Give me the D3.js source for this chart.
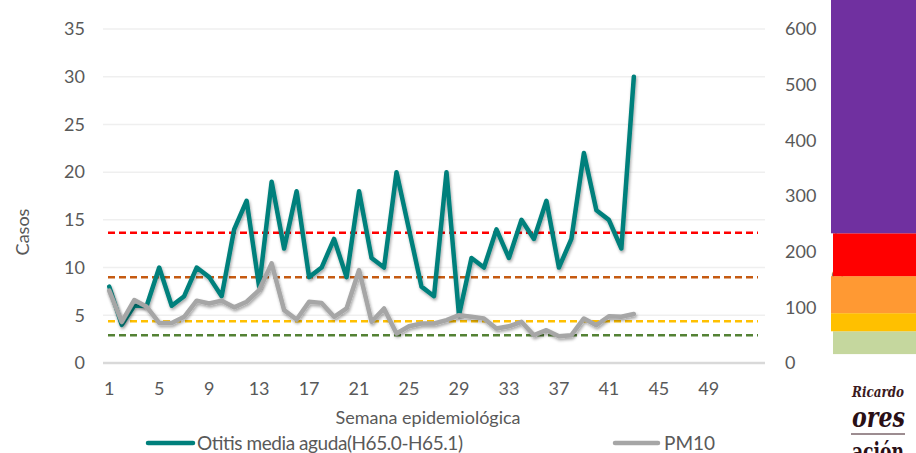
<!DOCTYPE html>
<html>
<head>
<meta charset="utf-8">
<script src="https://cdn.jsdelivr.net/npm/d3@7"></script>
<style>
  body { margin: 0; background: #fff; }
  text { font-family: Lato, "Open Sans", sans-serif; fill: #595959; }
</style>
</head>
<body>
<div id="chart"></div>
<script>
// semanas epidemiologicas 1..53
var weeks = d3.range(1, 54);
var weekTicks = [1, 5, 9, 13, 17, 21, 25, 29, 33, 37, 41, 45, 49];
var casosTicks = [0, 5, 10, 15, 20, 25, 30, 35];
var pmTicks = [0, 100, 200, 300, 400, 500, 600];

// casos de otitis (semanas 1..43)
var otitis = [8, 4, 6, 6, 10, 6, 7, 10, 9, 7, 14, 17, 8, 19, 12, 18, 9, 10, 13, 9,
              18, 11, 10, 20, 14, 8, 7, 20, 5, 11, 10, 14, 11, 15, 13, 17, 10, 13, 22, 16,
              15, 12, 30];
// PM10 semanal (ug/m3)
var pm10 = [130, 74, 113, 101, 72, 72, 83, 112, 107, 112, 100, 110, 131, 179, 95, 78, 110, 108, 83, 98,
            167, 74, 98, 53, 66, 71, 71, 77, 86, 83, 80, 62, 66, 74, 50, 59, 48, 50, 80, 68,
            84, 83, 88];

// umbrales PM10 (lineas punteadas)
var umbrales = [50, 75, 154, 234];
var umbralColors = ["#548235", "#FFC000", "#C55A11", "#FF0000"];

// barra de colores a la derecha (rango PM10)
var bandLow = [16, 57, 89.5, 156, 233];
var bandHigh = [57, 89.5, 156, 233, 660];
var bandColors = ["#C5D79E", "#FFC000", "#FF9933", "#FF0000", "#7030A0"];

var width = 916, height = 453;
var mLeft = 103, mRight = 765, mTop = 29, mBottom = 363;

var svg = d3.select("#chart").append("svg")
    .attr("width", width).attr("height", height);

var defs = svg.append("defs");
var f = defs.append("filter").attr("id", "shadow")
    .attr("x", "-10%").attr("y", "-10%").attr("width", "120%").attr("height", "130%");
f.append("feDropShadow").attr("dx", 1).attr("dy", 2).attr("stdDeviation", 1.5)
    .attr("flood-color", "#000").attr("flood-opacity", 0.35);

var x = d3.scaleBand().domain(weeks).range([mLeft, mRight]);
var cx = function (w) { return x(w) + x.bandwidth() / 2; };
var yL = d3.scaleLinear().domain([0, 35]).range([mBottom, mTop]);
var yR = d3.scaleLinear().domain([0, 600]).range([mBottom, mTop]);

// grid
svg.selectAll(".grid").data(casosTicks.slice(1)).enter().append("line")
    .attr("x1", mLeft).attr("x2", mRight)
    .attr("y1", d => yL(d)).attr("y2", d => yL(d))
    .attr("stroke", "#EFEFEF").attr("stroke-width", 1.5);

svg.append("line").attr("x1", mLeft).attr("x2", mRight)
    .attr("y1", mBottom).attr("y2", mBottom)
    .attr("stroke", "#D9D9D9").attr("stroke-width", 2.5);

// umbrales
svg.selectAll(".umbral").data(umbrales).enter().append("line")
    .attr("x1", 108).attr("x2", 758)
    .attr("y1", d => yR(d)).attr("y2", d => yR(d))
    .attr("stroke", (d, i) => umbralColors[i])
    .attr("stroke-width", 2.5)
    .attr("stroke-dasharray", "7,4");

// ejes
svg.selectAll(".tl").data(casosTicks).enter().append("text")
    .attr("x", 85).attr("y", d => yL(d)).attr("dy", "0.35em")
    .attr("text-anchor", "end").style("font-size", "18px").text(d => d);

svg.selectAll(".tr").data(pmTicks).enter().append("text")
    .attr("x", 785).attr("y", d => yR(d)).attr("dy", "0.35em")
    .style("font-size", "18px").text(d => d);

svg.selectAll(".tx").data(weekTicks).enter().append("text")
    .attr("x", d => cx(d)).attr("y", 389).attr("dy", "0.35em")
    .attr("text-anchor", "middle").style("font-size", "18px").text(d => d);

svg.append("text").attr("transform", "translate(29,232) rotate(-90)")
    .attr("text-anchor", "middle").style("font-size", "18px").text("Casos");

svg.append("text").attr("x", 428).attr("y", 418).attr("dy", "0.35em")
    .attr("text-anchor", "middle").style("font-size", "18px")
    .text("Semana epidemiológica");

// titulo del eje derecho, casi tapado por la barra de colores
svg.append("text").attr("transform", "translate(843,196) rotate(-90)")
    .attr("text-anchor", "middle").style("font-size", "16px")
    .text("Concentración de PM10");

// series
var line = d3.line().x((d, i) => cx(weeks[i]));

svg.append("path").datum(otitis)
    .attr("d", line.y(d => yL(d)))
    .attr("fill", "none").attr("stroke", "#00807C").attr("stroke-width", 4.5)
    .attr("stroke-linejoin", "round").attr("stroke-linecap", "round")
    .attr("filter", "url(#shadow)");

svg.append("path").datum(pm10)
    .attr("d", line.y(d => yR(d)))
    .attr("fill", "none").attr("stroke", "#A6A6A6").attr("stroke-width", 4.5)
    .attr("stroke-linejoin", "round").attr("stroke-linecap", "round")
    .attr("filter", "url(#shadow)");

// barra de colores
var bandX = [833, 831, 831, 833, 831];
svg.selectAll(".band").data(bandLow).enter().append("rect")
    .attr("x", (d, i) => bandX[i]).attr("width", (d, i) => width - bandX[i])
    .attr("y", (d, i) => Math.max(0, yR(bandHigh[i])))
    .attr("height", (d, i) => yR(d) - Math.max(0, yR(bandHigh[i])))
    .attr("fill", (d, i) => bandColors[i]);

// leyenda
var legend = svg.append("g");
legend.append("line").attr("x1", 148).attr("x2", 193).attr("y1", 443).attr("y2", 443)
    .attr("stroke", "#00807C").attr("stroke-width", 4.5).attr("stroke-linecap", "round");
legend.append("text").attr("x", 197).attr("y", 443).attr("dy", "0.35em")
    .attr("textLength", 266).attr("lengthAdjust", "spacing")
    .style("font-size", "19px").text("Otitis media aguda(H65.0-H65.1)");
legend.append("line").attr("x1", 615).attr("x2", 658).attr("y1", 443).attr("y2", 443)
    .attr("stroke", "#A6A6A6").attr("stroke-width", 4.5).attr("stroke-linecap", "round");
legend.append("text").attr("x", 664).attr("y", 443).attr("dy", "0.35em")
    .style("font-size", "19px").text("PM10");

// logo recortado
defs.append("clipPath").attr("id", "logoclip").append("rect")
    .attr("x", 851).attr("y", 378).attr("width", 65).attr("height", 75);
var logo = svg.append("g").attr("clip-path", "url(#logoclip)");
logo.append("text").attr("x", 852).attr("y", 397)
    .attr("textLength", 52).attr("lengthAdjust", "spacingAndGlyphs")
    .style("font-family", "'DejaVu Serif', serif").style("font-style", "italic")
    .style("font-weight", "bold").style("font-size", "14px").style("fill", "#3B1A22")
    .text("Ricardo");
logo.append("text").attr("x", 852).attr("y", 427)
    .attr("textLength", 53).attr("lengthAdjust", "spacingAndGlyphs")
    .style("font-family", "'DejaVu Serif', serif").style("font-style", "italic")
    .style("font-weight", "bold").style("font-size", "27px").style("fill", "#2A0F16")
    .text("ores");
logo.append("line").attr("x1", 851).attr("x2", 905).attr("y1", 434).attr("y2", 434)
    .attr("stroke", "#3B1A22").attr("stroke-width", 1);
logo.append("text").attr("x", 852).attr("y", 460)
    .attr("textLength", 52).attr("lengthAdjust", "spacingAndGlyphs")
    .style("font-family", "'DejaVu Serif', serif")
    .style("font-weight", "bold").style("font-size", "24px").style("fill", "#2A0F16")
    .text("ación");
</script>
</body>
</html>
